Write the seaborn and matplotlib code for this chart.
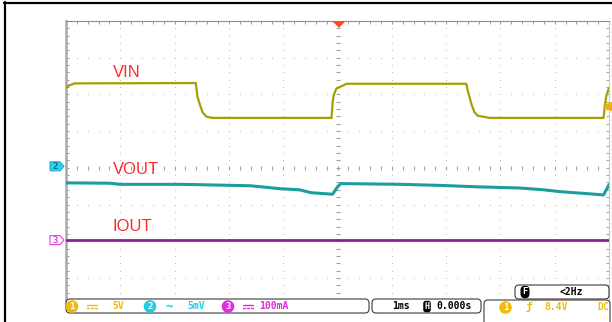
import numpy as np
import matplotlib
matplotlib.use("Agg")
import matplotlib.pyplot as plt
import matplotlib.patches as mpatches
from matplotlib.lines import Line2D
from matplotlib.transforms import Affine2D, blended_transform_factory
import seaborn as sns

# --- scope readings (time in ms, trigger at 0, 1 ms/div) ---
vin_t = [-5.0, -4.95, -4.84, -2.61, -2.58, -2.52, -2.48, -2.41, -2.30,
         -0.11, -0.09, -0.07, -0.02, 0.04, 0.17,
         2.37, 2.41, 2.47, 2.52, 2.58, 2.80, 4.90, 4.92, 4.95, 5.0]
vin_v = [10.9, 11.2, 11.5, 11.55, 9.7, 8.3, 7.5, 6.95, 6.8,
         6.8, 8.9, 9.9, 10.8, 11.0, 11.45,
         11.45, 10.2, 8.6, 7.6, 7.1, 6.8, 6.8, 8.2, 9.8, 10.9]

vout_t = [-5.0, -4.2, -4.0, -2.9, -2.55, -1.6, -1.05, -0.7, -0.48, -0.09,
          0.0, 0.06, 1.15, 1.9, 2.6, 3.35, 3.8, 4.1, 4.65, 4.9, 5.0]
vout_mv = [-2.25, -2.3, -2.45, -2.45, -2.5, -2.65, -3.05, -3.2, -3.6, -3.8,
           -2.8, -2.35, -2.45, -2.6, -2.8, -2.95, -3.2, -3.45, -3.75, -3.9, -2.5]

iout_t = [-5.0, 5.0]
iout_ma = [0.0, 0.0]

# channel settings: units/div and ground offset in divisions
ch1_scale, ch1_off = 5.0, 0.0      # 5 V/div
ch2_scale, ch2_off = 5.0, 0.04     # 5 mV/div
ch3_scale, ch3_off = 100.0, -1.97  # 100 mA/div
trig_level = 8.4

sns.set_theme(style="white")
plt.rcParams['font.family'] = ['Liberation Sans', 'DejaVu Sans']

W, H = 612, 322
fig = plt.figure(figsize=(W / 100, H / 100), dpi=100)
fig.patch.set_facecolor('white')
ax = fig.add_axes([66 / W, 1 - 300 / H, 543 / W, 279 / H])
pix = Affine2D().scale(1 / W, -1 / H).translate(0, 1) + fig.transFigure

ax.set_xlim(-5, 5)
ax.set_ylim(4 - 279 / 36.7, 4)
ax.set_facecolor('white')

# graticule
gcol = '#b4b4b4'
minor = np.arange(-25, 26) * 0.2
vminor = np.arange(-18, 21) * 0.2
for gy in range(-3, 4):
    ax.scatter(minor, np.full_like(minor, gy), s=0.6, color=gcol, lw=0, zorder=1)
for gx in range(-4, 5):
    ax.scatter(np.full_like(vminor, gx), vminor, s=0.6, color=gcol, lw=0, zorder=1)
ax.plot(minor, np.zeros_like(minor), ls='none', marker='|', ms=2.4, mew=0.8, color='#a0a0a0', zorder=1)
ax.plot(np.zeros_like(vminor), vminor, ls='none', marker='_', ms=2.4, mew=0.8, color='#a0a0a0', zorder=1)

ax.set_xticks(np.arange(-5, 6, 1))
ax.set_xticks(minor, minor=True)
ax.set_yticks(np.arange(-3, 5, 1))
ax.set_yticks(vminor[vminor > -3.6], minor=True)
ax.tick_params(which='both', direction='in', top=True, bottom=False, left=True, right=True,
               length=2.2, width=0.7, color='#a0a0a0',
               labelbottom=False, labelleft=False, labeltop=False, labelright=False)
ax.spines['left'].set_color('#a8a8a8')
ax.spines['left'].set_linewidth(1.8)
ax.spines['top'].set_color('#8c8c8c')
ax.spines['top'].set_linewidth(0.8)
ax.spines['right'].set_color('#c8c8c8')
ax.spines['right'].set_linewidth(0.8)
ax.spines['bottom'].set_visible(False)

# traces
sns.lineplot(x=vin_t, y=np.array(vin_v) / ch1_scale + ch1_off, color='#a69f00',
             lw=1.6, ax=ax, estimator=None, sort=False, zorder=3)
sns.lineplot(x=vout_t, y=np.array(vout_mv) / ch2_scale + ch2_off, color='#1c9e9e',
             lw=2.2, ax=ax, estimator=None, sort=False, zorder=3)
sns.lineplot(x=iout_t, y=np.array(iout_ma) / ch3_scale + ch3_off, color='#8c1e9c',
             lw=2.0, ax=ax, estimator=None, sort=False, zorder=3)

red = '#ff2a2a'
ax.text(-4.14, 2.59, 'VIN', color=red, fontsize=12, va='center', ha='left')
ax.text(-4.14, -0.04, 'VOUT', color=red, fontsize=12, va='center', ha='left')
ax.text(-4.14, -1.59, 'IOUT', color=red, fontsize=12, va='center', ha='left')

# trigger markers
ax.plot([0], [4 - 3 / 36.7], marker=[(-1, 0.5), (1, 0.5), (0, -0.5)], ms=8,
        color='#ff4a1a', ls='none', clip_on=False, zorder=5)
ax.plot([4.97], [trig_level / ch1_scale + ch1_off], marker='<', ms=6,
        color='#f5b000', ls='none', clip_on=False, zorder=5)

# channel ground markers on the left
bl = blended_transform_factory(pix, ax.transData)
hh = 4.5 / 36.7
for off, num, fc, ec, tc in [(ch2_off, '2', '#2ad2ea', '#1fb2cc', '#0b6a86'),
                              (ch3_off, '3', 'white', '#e040e0', '#e040e0')]:
    poly = mpatches.Polygon([(50, off - hh), (60, off - hh), (64, off), (60, off + hh), (50, off + hh)],
                            closed=True, fc=fc, ec=ec, lw=0.8, transform=bl, clip_on=False)
    fig.add_artist(poly)
    fig.text(55.5, off, num, transform=bl, color=tc, fontsize=6.5, weight='bold',
             ha='center', va='center', family='DejaVu Sans Mono')

# black frame of the screenshot
fig.add_artist(Line2D([4, 612], [3, 3], transform=pix, color='black', lw=1.6))
fig.add_artist(Line2D([5, 5], [2, 322], transform=pix, color='black', lw=1.6))

# status bar
def box(x0, y0, x1, y1):
    p = mpatches.FancyBboxPatch((x0, y0), x1 - x0, y1 - y0,
                                boxstyle='round,pad=0,rounding_size=4',
                                fc='white', ec='#3c3c3c', lw=0.8, transform=pix, clip_on=False)
    fig.add_artist(p)

def label(x, y, s, color, size=7, **kw):
    fig.text(x, y, s, transform=pix, color=color, fontsize=size, weight='bold',
             ha='center', va='center', family='DejaVu Sans Mono', **kw)

def badge(x, y, s, fc, tc='white', style='circle,pad=0.2', size=6.5):
    fig.text(x, y, s, transform=pix, color=tc, fontsize=size, weight='bold', ha='center', va='center',
             family='DejaVu Sans Mono', bbox=dict(boxstyle=style, fc=fc, ec='none'))

def dc_sign(x0, y, color):
    fig.add_artist(Line2D([x0, x0 + 10], [y - 1.5, y - 1.5], transform=pix, color=color, lw=1.0))
    for d in (0, 4, 8):
        fig.add_artist(Line2D([x0 + d, x0 + d + 2], [y + 1.5, y + 1.5], transform=pix, color=color, lw=1.0))

yel, cyan, mag = '#f2bb0c', '#22cce0', '#e02ce0'
box(515, 285, 609, 299)
badge(525, 292, 'F', 'black', style='round,pad=0.2,rounding_size=0.5')
label(571, 292, '<2Hz', 'black')

box(66, 299, 369, 313)
box(372, 299, 481, 313)
box(484, 300, 610, 330)
ys = 306.5
badge(72, ys, '1', yel)
dc_sign(87, ys, yel)
label(118.5, ys, '5V', yel)
badge(150, ys, '2', cyan)
label(169, ys, '~', cyan, size=9)
label(196, ys, '5mV', cyan)
badge(228, ys, '3', mag)
dc_sign(243, ys, mag)
label(274, ys, '100mA', mag)
label(401, ys, '1ms', 'black')
badge(427, ys, 'H', 'black', style='round,pad=0.15,rounding_size=0.3', size=6)
label(454, ys, '0.000s', 'black')
ys3 = 307.5
badge(505.5, ys3, '1', yel)
label(529, ys3, 'ƒ', yel, size=8)
label(556, ys3, '8.4V', yel)
label(603, ys3, 'DC', yel)

plt.savefig('out.png', dpi=100)
